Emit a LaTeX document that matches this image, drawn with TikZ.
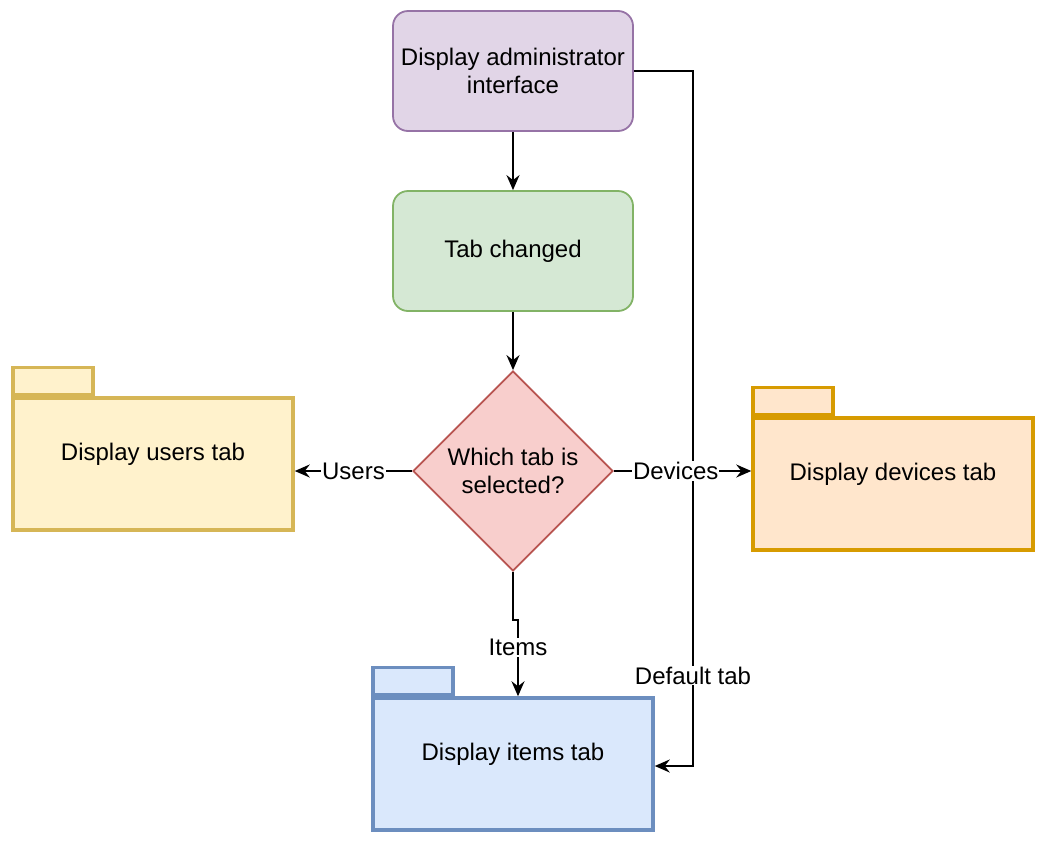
\documentclass[tikz,border=0pt]{standalone}
\usepackage{fontspec}
\setmainfont{Liberation Sans}
\usetikzlibrary{shapes.geometric,arrows.meta}

\definecolor{admfill}{HTML}{E1D5E7}
\definecolor{admdraw}{HTML}{9673A6}
\definecolor{tabfill}{HTML}{D5E8D4}
\definecolor{tabdraw}{HTML}{82B366}
\definecolor{selfill}{HTML}{F8CECC}
\definecolor{seldraw}{HTML}{B85450}
\definecolor{usrfill}{HTML}{FFF2CC}
\definecolor{usrdraw}{HTML}{D6B656}
\definecolor{devfill}{HTML}{FFE6CC}
\definecolor{devdraw}{HTML}{D79B00}
\definecolor{itmfill}{HTML}{DAE8FC}
\definecolor{itmdraw}{HTML}{6C8EBF}

\begin{document}
\begin{tikzpicture}[x=1pt,y=-1pt,
    every node/.style={font=\fontsize{24}{28}\selectfont},
    box/.style={rectangle,rounded corners=15pt,line width=1.8pt,minimum width=240pt,minimum height=120pt,align=center},
    pkgbody/.style={rectangle,line width=3.5pt,minimum width=280pt,minimum height=132pt},
    pkgtab/.style={rectangle,line width=3.5pt,minimum width=80pt,minimum height=27pt,anchor=south west},
    arr/.style={line width=2pt,-{Stealth[length=15pt,width=13pt,inset=5pt]}},
    lbl/.style={fill=white,inner sep=1pt}]
    \fill[white] (0,0) rectangle (1044,844);

    \node[box,fill=admfill,draw=admdraw] (adm) at (513,71) {Display administrator\\interface};
    \node[box,fill=tabfill,draw=tabdraw] (tab) at (513,251) {\raisebox{-3pt}{Tab changed}};
    \node[diamond,aspect=1,inner sep=0pt,minimum size=200pt,line width=1.8pt,fill=selfill,draw=seldraw,align=center] (sel) at (513,471) {Which tab is\\selected?};

    % packages
    \node[pkgbody,fill=usrfill,draw=usrdraw] (users) at (153,464) {};
    \node[pkgtab,fill=usrfill,draw=usrdraw] (userstab) at (users.north west) {};
    \node (userstxt) at (153,454) {Display users tab};

    \node[pkgbody,fill=devfill,draw=devdraw] (devices) at (893,484) {};
    \node[pkgtab,fill=devfill,draw=devdraw] (devicestab) at (devices.north west) {};
    \node (devicestxt) at (893,474) {Display devices tab};

    \node[pkgbody,fill=itmfill,draw=itmdraw] (items) at (513,764) {};
    \node[pkgtab,fill=itmfill,draw=itmdraw] (itemstab) at (items.north west) {};
    \node (itemstxt) at (513,754) {Display items tab};

    \coordinate (jog) at (518,620);
    \coordinate (bend) at (693,766);

    \draw[arr] (adm) -- (tab);
    \draw[arr] (tab) -- (sel);
    \draw[arr] (adm.east) -| node[lbl,pos=0.935]{Default tab} (bend) -- (bend -| items.east);
    \draw[arr] (sel.west) -- node[lbl]{Users} (sel.west -| users.east);
    \draw[arr] (sel.east) -- node[lbl,pos=0.45]{Devices} (sel.east -| devices.west);
    \draw[arr] (sel.south) |- (jog) -- node[lbl,pos=0.36]{Items} (jog |- items.north);
\end{tikzpicture}
\end{document}
